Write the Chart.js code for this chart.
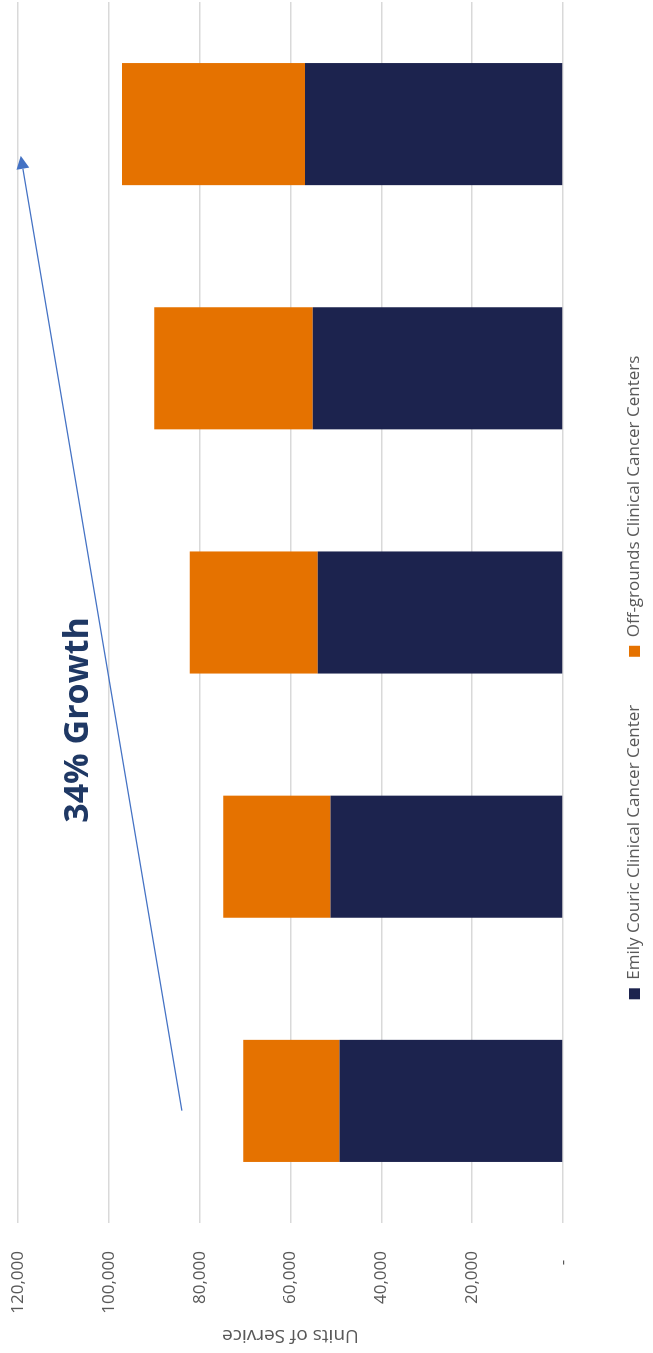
<!DOCTYPE html>
<html>
<head>
<meta charset="utf-8">
<title>Units of Service</title>
<script src="https://cdn.jsdelivr.net/npm/chart.js@4.4.1/dist/chart.umd.min.js"></script>
<style>
  html, body { margin: 0; padding: 0; background: #ffffff; }
  body { width: 653px; height: 1353px; overflow: hidden; position: relative; }
  /* chart is laid out landscape, then turned a quarter left to fit the page */
  #chart_wrap {
    position: absolute; left: 0; top: 0;
    width: 1353px; height: 653px;
    transform-origin: 0 0;
    transform: translate(0, 1353px) rotate(-90deg);
  }
</style>
</head>
<body>
<div id="chart_wrap"><canvas id="myChart"></canvas></div>
<script>
const years = ["FY20", "FY21", "FY22", "FY23", "FY24"];
const emilyCouric = [49200, 51200, 54000, 55100, 56800];
const offGrounds = [21200, 23600, 28200, 34900, 40300];
const valueTicks = [0, 20000, 40000, 60000, 80000, 100000, 120000];
const seriesNames = ["Emily Couric Clinical Cancer Center", "Off-grounds Clinical Cancer Centers"];
const axisTitle = "Units of Service";
const growthLabel = "34% Growth";

// annotation spots as [category index, units]
const arrowFrom = [-0.04, 83900];
const arrowTo = [3.87, 119400];
const labelAt = [1.56, 106700];

function formatTick(value) {
  if (value === 0) {
    return "-  ";
  }
  return value.toLocaleString("en-US");
}

const growthArrow = {
  id: "growthArrow",
  afterDatasetsDraw(chart) {
    const { ctx } = chart;
    const x = chart.scales.x;
    const y = chart.scales.y;
    const x1 = x.getPixelForValue(arrowFrom[0]);
    const y1 = y.getPixelForValue(arrowFrom[1]);
    const x2 = x.getPixelForValue(arrowTo[0]);
    const y2 = y.getPixelForValue(arrowTo[1]);
    const angle = Math.atan2(y2 - y1, x2 - x1);
    const headLen = 13;
    const headHalf = 6.5;

    ctx.save();
    ctx.strokeStyle = "#4472C4";
    ctx.fillStyle = "#4472C4";
    ctx.lineWidth = 1.3;
    ctx.beginPath();
    ctx.moveTo(x1, y1);
    ctx.lineTo(x2 - Math.cos(angle) * headLen, y2 - Math.sin(angle) * headLen);
    ctx.stroke();

    // arrow head
    const bx = x2 - Math.cos(angle) * headLen;
    const by = y2 - Math.sin(angle) * headLen;
    ctx.beginPath();
    ctx.moveTo(x2, y2);
    ctx.lineTo(bx + Math.sin(angle) * headHalf, by - Math.cos(angle) * headHalf);
    ctx.lineTo(bx - Math.sin(angle) * headHalf, by + Math.cos(angle) * headHalf);
    ctx.closePath();
    ctx.fill();

    ctx.font = "bold 34px 'Open Sans', sans-serif";
    ctx.fillStyle = "#1F3864";
    ctx.textAlign = "center";
    ctx.textBaseline = "middle";
    ctx.fillText(growthLabel, x.getPixelForValue(labelAt[0]), y.getPixelForValue(labelAt[1]));
    ctx.restore();
  },
};

// keeps the legend row at the very bottom with wide gaps between items
const legendHeight = {
  id: "legendHeight",
  beforeInit(chart) {
    const fitLegend = chart.legend.fit;
    chart.legend.fit = function () {
      fitLegend.bind(chart.legend)();
      this.height = 75;
    };
  },
};

function initChart() {
  const ctx = document.getElementById("myChart");
  Chart.defaults.font.family = "'Open Sans', sans-serif";
  Chart.defaults.color = "#595959";

  return new Chart(ctx, {
    type: "bar",
    data: {
      labels: years,
      datasets: [
        {
          label: seriesNames[0],
          data: emilyCouric,
          backgroundColor: "#1C234E",
          barPercentage: 0.5,
          categoryPercentage: 1.0,
        },
        {
          label: seriesNames[1],
          data: offGrounds,
          backgroundColor: "#E57200",
          barPercentage: 0.5,
          categoryPercentage: 1.0,
        },
      ],
    },
    options: {
      responsive: true,
      maintainAspectRatio: false,
      animation: false,
      layout: { padding: { top: 18, right: 2, left: 0, bottom: 0 } },
      plugins: {
        tooltip: { enabled: false },
        legend: {
          position: "bottom",
          labels: {
            boxWidth: 11,
            boxHeight: 11,
            padding: 48,
            color: "#595959",
            font: { size: 17 },
          },
        },
      },
      scales: {
        x: {
          stacked: true,
          grid: { display: false, drawTicks: false },
          border: { display: false },
          ticks: { padding: 17, font: { size: 17 }, color: "#595959" },
          afterFit(scale) {
            scale.height = 15;
          },
        },
        y: {
          stacked: true,
          min: 0,
          max: 120000,
          grid: { color: "#D9D9D9", lineWidth: 1.4, drawTicks: false },
          border: { display: false },
          afterBuildTicks(scale) {
            scale.ticks = valueTicks.map((v) => ({ value: v }));
          },
          ticks: {
            padding: 28,
            font: { size: 17 },
            color: "#595959",
            callback: (value) => formatTick(value),
          },
          title: {
            display: true,
            text: axisTitle,
            color: "#595959",
            font: { size: 19 },
            padding: { top: 6, bottom: 0 },
          },
          afterFit(scale) {
            scale.width = 130;
            // tick padding should not push the plot down
            scale.paddingTop = 0;
            scale.paddingBottom = 0;
          },
        },
      },
    },
    plugins: [growthArrow, legendHeight],
  });
}

document.addEventListener("DOMContentLoaded", () => {
  const chart = initChart();
  console.log("chart area", chart.chartArea);
});
</script>
</body>
</html>
